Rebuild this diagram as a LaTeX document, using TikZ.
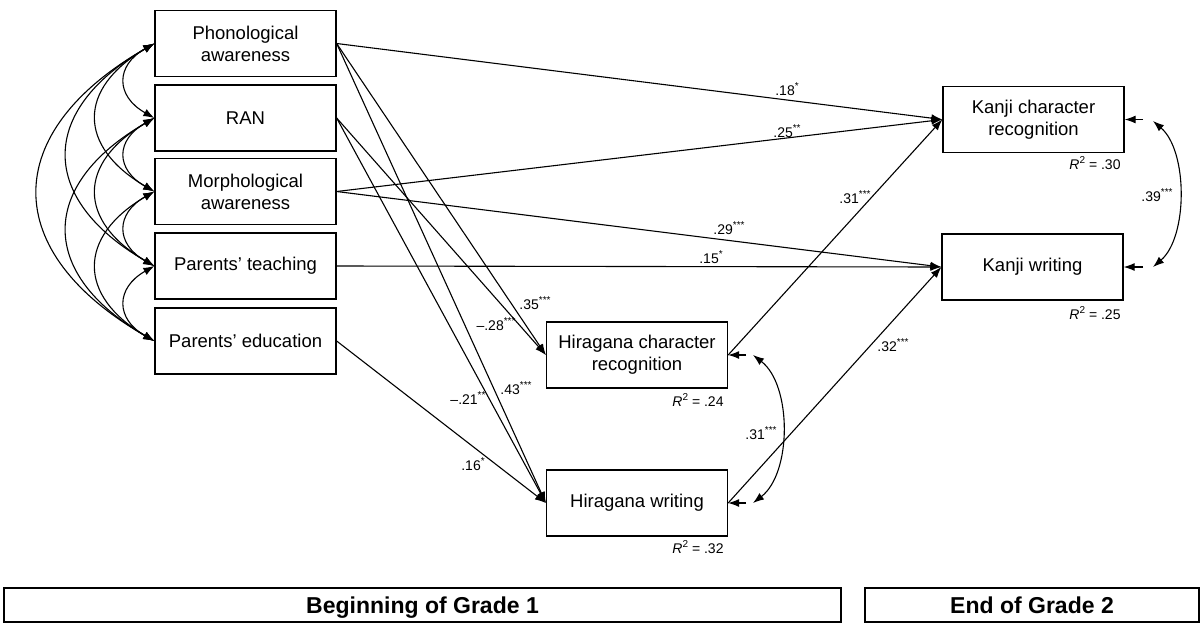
\documentclass[tikz,border=0pt]{standalone}
\usepackage{fontspec}
\setmainfont{Liberation Sans}
\usetikzlibrary{arrows.meta}
\newcommand{\stars}[1]{\raisebox{0.38em}{\fontsize{10}{10}\selectfont #1}}
\begin{document}
\begin{tikzpicture}[x=1pt,y=-1pt,
  box/.style={draw, line width=1.3pt, minimum width=181pt, minimum height=66pt, align=center, inner sep=0pt, font=\fontsize{18.5}{22}\selectfont},
  lab/.style={inner sep=0pt, font=\fontsize{14}{16}\selectfont},
  pth/.style={line width=1.1pt, -{Latex[length=11pt,width=8pt]}},
  cov/.style={line width=1.1pt, {Latex[length=11pt,width=8pt]}-{Latex[length=11pt,width=8pt]}},
  bar/.style={draw, line width=1.4pt, minimum height=34pt, inner sep=0pt, text height=16.5pt, text depth=0pt, font=\fontsize{23}{26}\selectfont\bfseries}]
\useasboundingbox (0,0) rectangle (1202,627);

% boxes
\node[box] (pa) at (245.5,43.5) {Phonological\\awareness};
\node[box] (ran) at (245.5,118) {RAN};
\node[box] (ma) at (245.5,191.5) {Morphological\\awareness};
\node[box] (pt) at (245.5,266) {Parents’ teaching};
\node[box] (pe) at (245.5,341) {Parents’ education};
\node[box] (hc) at (637,355) {Hiragana character\\recognition};
\node[box] (hw) at (637,503) {Hiragana writing};
\node[box] (kc) at (1033.5,119.5) {Kanji character\\recognition};
\node[box] (kw) at (1032.5,267) {Kanji writing};

% bottom bars
\node[bar, minimum width=837pt] (b1) at (422.5,605) {Beginning of Grade 1};
\node[bar, minimum width=334pt] (b2) at (1032,605) {End of Grade 2};

% left covariances
\draw[cov] (pa.west) .. controls +(-39,22) and +(-39,-22) .. (ran.west);
\draw[cov] (ran.west) .. controls +(-39,22) and +(-39,-22) .. (ma.west);
\draw[cov] (ma.west) .. controls +(-39,22) and +(-39,-22) .. (pt.west);
\draw[cov] (pt.west) .. controls +(-39,22) and +(-39,-22) .. (pe.west);
\draw[cov] (pa.west) .. controls +(-77,45) and +(-77,-45) .. (ma.west);
\draw[cov] (ran.west) .. controls +(-77,45) and +(-77,-45) .. (pt.west);
\draw[cov] (ma.west) .. controls +(-77,45) and +(-77,-45) .. (pe.west);
\draw[cov] (pa.west) .. controls +(-116,67) and +(-116,-67) .. (pt.west);
\draw[cov] (ran.west) .. controls +(-116,67) and +(-116,-67) .. (pe.west);
\draw[cov] (pa.west) .. controls +(-155,89) and +(-155,-89) .. (pe.west);

% paths
\draw[pth] (pa.east) -- (kc.west);
\draw[pth] (ma.east) -- (kc.west);
\draw[pth] (ma.east) -- (kw.west);
\draw[pth] (pt.east) -- (kw.west);
\draw[pth] (pa.east) -- (hc.west);
\draw[pth] (ran.east) -- (hc.west);
\draw[pth] (pa.east) -- (hw.west);
\draw[pth] (ran.east) -- (hw.west);
\draw[pth] (pe.east) -- (hw.west);
\draw[pth] (hc.east) -- (kc.west);
\draw[pth] (hw.east) -- (kw.west);

% path labels
\node[lab] (l1) at (787,89) {.18\stars{*}};
\node[lab] (l2) at (787,131) {.25\stars{**}};
\node[lab] (l3) at (729,228) {.29\stars{***}};
\node[lab] (l4) at (711,257) {.15\stars{*}};
\node[lab] (l5) at (535,303) {.35\stars{***}};
\node[lab] (l6) at (496,324) {–.28\stars{***}};
\node[lab] (l7) at (516,388) {.43\stars{***}};
\node[lab] (l8) at (468,398) {–.21\stars{**}};
\node[lab] (l9) at (473,464) {.16\stars{*}};
\node[lab] (l10) at (855,197) {.31\stars{***}};
\node[lab] (l11) at (893,345) {.32\stars{***}};

% residuals and covariances on the right
\coordinate (rkc) at (1143,119.5);
\coordinate (rkw) at (1143,267);
\coordinate (rhc) at (746,355);
\coordinate (rhw) at (746,503);
\draw[pth] (rkc) -- (kc.east);
\draw[pth] (rkw) -- (kw.east);
\draw[pth] (rhc) -- (hc.east);
\draw[pth] (rhw) -- (hw.east);
\coordinate (ckc) at (1153,121);
\coordinate (ckw) at (1153,267);
\coordinate (chc) at (753,355);
\coordinate (chw) at (753,503);
\draw[cov] (ckc) .. controls +(35,30) and +(35,-30) .. (ckw);
\draw[cov] (chc) .. controls +(39,30) and +(39,-30) .. (chw);
\node[lab] (l12) at (1157,195) {.39\stars{***}};
\node[lab] (l13) at (761,433) {.31\stars{***}};

% R squared
\node[lab] (r1) at (1095,163) {\textit{R}\stars{2} = .30};
\node[lab] (r2) at (1095,313) {\textit{R}\stars{2} = .25};
\node[lab] (r3) at (698,400) {\textit{R}\stars{2} = .24};
\node[lab] (r4) at (698,547) {\textit{R}\stars{2} = .32};
\end{tikzpicture}
\end{document}
